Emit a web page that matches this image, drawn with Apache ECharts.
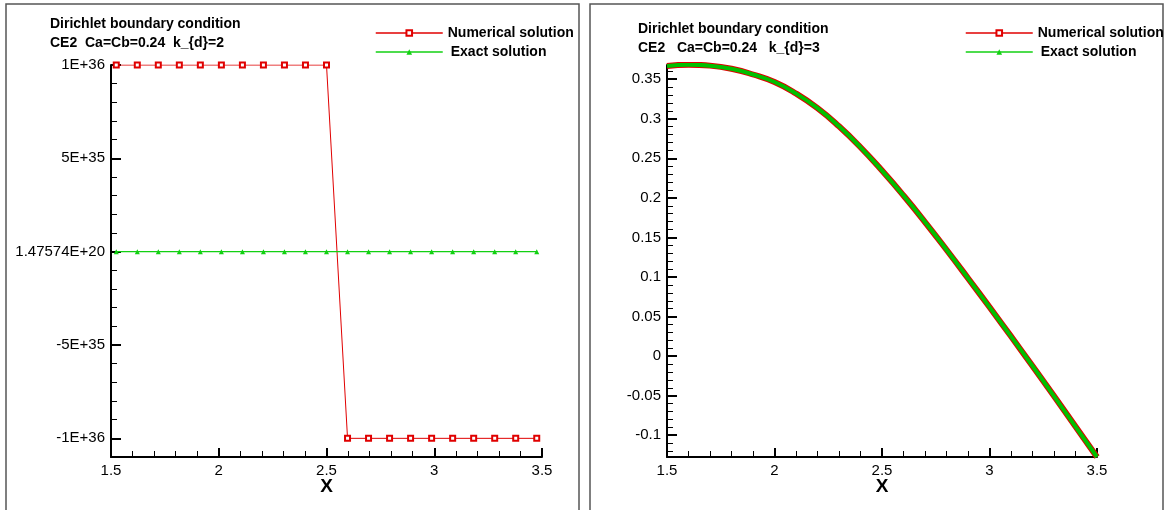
<!DOCTYPE html>
<html>
<head>
<meta charset="utf-8">
<script src="https://cdn.jsdelivr.net/npm/echarts@6/dist/echarts.min.js"></script>
<style>
  html, body { margin: 0; padding: 0; background: #fff; }
  #chart { width: 1168px; height: 510px; }
</style>
</head>
<body>
<div id="chart"></div>
<script>
// ---- k_d = 2 : cell-centre samples ----
const xLeft = [1.5244, 1.6220, 1.7195, 1.8171, 1.9146, 2.0122, 2.1098, 2.2073, 2.3049, 2.4024, 2.5000,
               2.5976, 2.6951, 2.7927, 2.8902, 2.9878, 3.0854, 3.1829, 3.2805, 3.3780, 3.4756];
const numericalLeft = [1e36, 1e36, 1e36, 1e36, 1e36, 1e36, 1e36, 1e36, 1e36, 1e36, 1e36,
                       -1e36, -1e36, -1e36, -1e36, -1e36, -1e36, -1e36, -1e36, -1e36, -1e36];
const exactLeft = [0, 0, 0, 0, 0, 0, 0, 0, 0, 0, 0, 0, 0, 0, 0, 0, 0, 0, 0, 0, 0];

// ---- k_d = 3 ----
const xRight = [1.5, 1.6, 1.7, 1.8, 1.9, 2.0, 2.1, 2.2, 2.3, 2.4, 2.5,
                2.6, 2.7, 2.8, 2.9, 3.0, 3.1, 3.2, 3.3, 3.4, 3.5];
const numericalRight = [0.3667, 0.3684, 0.3672, 0.3632, 0.3560, 0.3465, 0.3320, 0.3135, 0.2905, 0.2640, 0.2345,
                        0.2030, 0.1695, 0.1345, 0.0985, 0.0620, 0.0250, -0.0125, -0.0505, -0.0890, -0.1275];
const exactRight = [0.3667, 0.3684, 0.3672, 0.3632, 0.3560, 0.3465, 0.3320, 0.3135, 0.2905, 0.2640, 0.2345,
                    0.2030, 0.1695, 0.1345, 0.0985, 0.0620, 0.0250, -0.0125, -0.0505, -0.0890, -0.1275];

// ---- axis ticks and labels ----
const yTicksLeft = [-1e36, -5e35, 1.47574e20, 5e35, 1e36];
const yLabelsLeft = ['-1E+36', '-5E+35', '1.47574E+20', '5E+35', '1E+36'];
const yTicksRight = [-0.1, -0.05, 0, 0.05, 0.1, 0.15, 0.2, 0.25, 0.3, 0.35];
const yLabelsRight = ['-0.1', '-0.05', '0', '0.05', '0.1', '0.15', '0.2', '0.25', '0.3', '0.35'];

const titleLeft = 'Dirichlet boundary condition\nCE2  Ca=Cb=0.24  k_{d}=2';
const titleRight = 'Dirichlet boundary condition\nCE2   Ca=Cb=0.24   k_{d}=3';
const seriesNames = ['Numerical solution', 'Exact solution'];

const FONT = '"Liberation Sans", Arial, Helvetica, sans-serif';
const RED = '#e00000';
const GREEN = '#12d012';

// minor y ticks between the labelled ones
function minorTicks(lo, hi, step, majorStep) {
  const out = [];
  const n0 = Math.ceil(lo / step - 1e-9), n1 = Math.floor(hi / step + 1e-9);
  const ratio = Math.round(majorStep / step);
  for (let n = n0; n <= n1; n++) {
    if (n % ratio !== 0) out.push(n * step);
  }
  return out;
}

const yRangeLeft = [-1.1e36, 1e36];
const yRangeRight = [-0.1275, 0.368];
const minorLeft = minorTicks(yRangeLeft[0], yRangeLeft[1], 1e35, 5e35);
const minorRight = minorTicks(yRangeRight[0], yRangeRight[1], 0.01, 0.05);

const zip = (xs, ys) => xs.map((x, i) => [x, ys[i]]);

function labelFor(ticks, labels) {
  return function (v) {
    let best = 0, d = Infinity;
    ticks.forEach((t, i) => {
      const e = Math.abs(t - v);
      if (e < d) { d = e; best = i; }
    });
    return labels[best];
  };
}

const gridLeft = { left: 111, right: 626, top: 65, bottom: 53 };
const gridRight = { left: 667, right: 71, top: 65, bottom: 53 };

function mainX(gridIndex) {
  return {
    type: 'value', gridIndex, min: 1.5, max: 3.5, interval: 0.5,
    name: 'X', nameLocation: 'middle', nameGap: 20, nameMoveOverlap: false,
    nameTextStyle: { fontFamily: FONT, fontSize: 19, fontWeight: 'bold', color: '#000',
                     verticalAlign: 'top' },
    axisLine: { show: true, onZero: false, lineStyle: { color: '#000', width: 2 } },
    axisTick: { show: true, inside: true, length: 9, lineStyle: { color: '#000', width: 2 } },
    minorTick: { show: true, splitNumber: 5, length: 6, lineStyle: { color: '#000', width: 1 } },
    axisLabel: { margin: 6, fontFamily: FONT, fontSize: 15, color: '#000' },
    splitLine: { show: false }
  };
}

function mainY(gridIndex, range, ticks, labels) {
  return {
    type: 'value', gridIndex, min: range[0], max: range[1],
    axisLine: { show: true, onZero: false, lineStyle: { color: '#000', width: 2 } },
    axisTick: { show: true, inside: true, length: 10, customValues: ticks,
                lineStyle: { color: '#000', width: 2 } },
    axisLabel: { margin: 6, fontFamily: FONT, fontSize: 15, color: '#000',
                 customValues: ticks, formatter: labelFor(ticks, labels) },
    splitLine: { show: false }
  };
}

function minorY(gridIndex, range, ticks) {
  return {
    type: 'value', gridIndex, min: range[0], max: range[1],
    axisLine: { show: false },
    axisTick: { show: true, inside: true, length: 6, customValues: ticks,
                lineStyle: { color: '#000', width: 1 } },
    axisLabel: { show: false },
    splitLine: { show: false }
  };
}

function hiddenX(gridIndex) {
  return { type: 'value', gridIndex, min: 1.5, max: 3.5, show: false };
}

function legendAt(left) {
  return {
    left, top: 25, orient: 'vertical', selectedMode: false,
    itemWidth: 67, itemHeight: 7, itemGap: 3, padding: 0,
    data: [
      { name: seriesNames[0] },
      { name: seriesNames[1], textStyle: { padding: [0, 0, 0, 3] } }
    ],
    lineStyle: { width: 1.5 },
    textStyle: { fontFamily: FONT, fontSize: 14, fontWeight: 'bold', color: '#000', lineHeight: 16 }
  };
}

const titleStyle = { fontFamily: FONT, fontSize: 14, fontWeight: 'bold', color: '#000', lineHeight: 19 };

const option = {
  animation: false,
  backgroundColor: '#fff',
  title: [
    { left: 50, top: 15, padding: 0, text: titleLeft, textStyle: titleStyle },
    { left: 638, top: 20, padding: 0, text: titleRight, textStyle: titleStyle }
  ],
  legend: [legendAt(375), legendAt(965)],
  grid: [gridLeft, gridRight, gridLeft, gridRight],
  xAxis: [mainX(0), mainX(1), hiddenX(2), hiddenX(3)],
  yAxis: [
    mainY(0, yRangeLeft, yTicksLeft, yLabelsLeft),
    mainY(1, yRangeRight, yTicksRight, yLabelsRight),
    minorY(2, yRangeLeft, minorLeft),
    minorY(3, yRangeRight, minorRight)
  ],
  series: [
    {
      name: seriesNames[0], type: 'line', xAxisIndex: 0, yAxisIndex: 0,
      data: zip(xLeft, numericalLeft),
      symbol: 'emptyRect', symbolSize: 5, showSymbol: true,
      lineStyle: { color: RED, width: 1 },
      itemStyle: { color: RED, borderWidth: 1 }
    },
    {
      name: seriesNames[1], type: 'line', xAxisIndex: 0, yAxisIndex: 0,
      data: zip(xLeft, exactLeft),
      symbol: 'triangle', symbolSize: 5, showSymbol: true,
      lineStyle: { color: GREEN, width: 1.2 },
      itemStyle: { color: GREEN }
    },
    {
      name: seriesNames[0], type: 'line', xAxisIndex: 1, yAxisIndex: 1,
      data: zip(xRight, numericalRight), smooth: true,
      symbol: 'emptyRect', symbolSize: 5, showSymbol: false,
      lineStyle: { color: RED, width: 6 },
      itemStyle: { color: RED }
    },
    {
      name: seriesNames[1], type: 'line', xAxisIndex: 1, yAxisIndex: 1,
      data: zip(xRight, exactRight), smooth: true,
      symbol: 'triangle', symbolSize: 5, showSymbol: false,
      lineStyle: { color: '#00c000', width: 4 },
      itemStyle: { color: GREEN }
    }
  ],
  graphic: [
    { type: 'rect', silent: true, z: -1,
      shape: { x: 6, y: 4, width: 573, height: 600 },
      style: { fill: null, stroke: '#555', lineWidth: 1.5 } },
    { type: 'rect', silent: true, z: -1,
      shape: { x: 590, y: 4, width: 573, height: 600 },
      style: { fill: null, stroke: '#555', lineWidth: 1.5 } }
  ]
};

const chart = echarts.init(document.getElementById('chart'), null, { renderer: 'canvas' });
chart.setOption(option);
</script>
</body>
</html>
